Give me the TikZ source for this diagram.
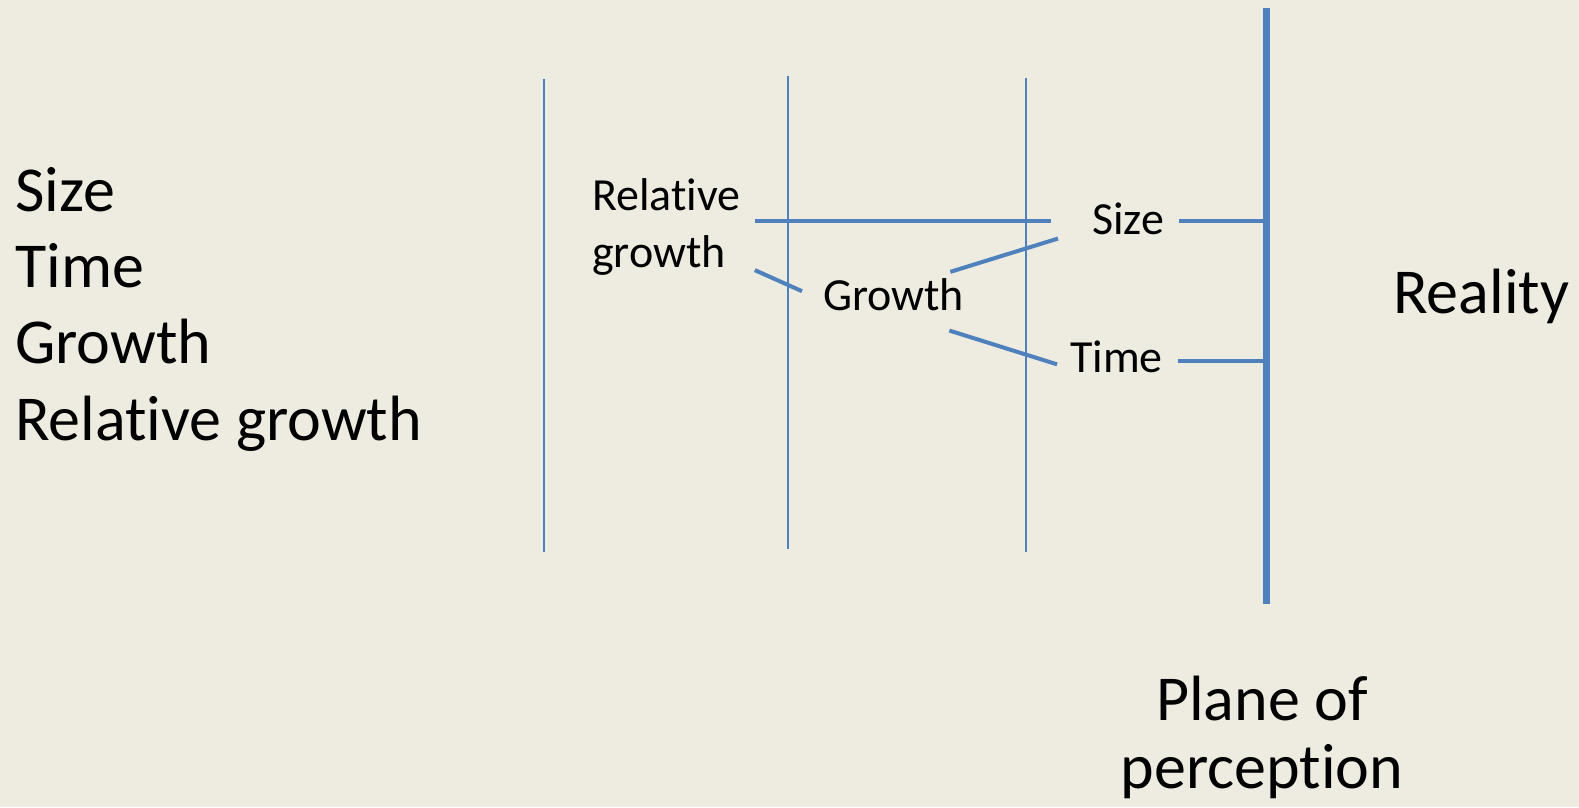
\documentclass[tikz,border=0pt]{standalone}
\usepackage{fontspec}
\setmainfont{Carlito}[Ligatures=NoCommon]
\usepackage{tikz}
\definecolor{paper}{RGB}{238,235,225}
\definecolor{lineblue}{RGB}{79,129,189}

\begin{document}
\begin{tikzpicture}[x=1pt,y=-1pt,
    bigtext/.style={inner sep=0pt,font=\fontsize{64}{68}\selectfont},
    smalltext/.style={inner sep=0pt,font=\fontsize{46}{57}\selectfont},
    thinline/.style={lineblue,line width=2pt},
    link/.style={lineblue,line width=4pt},
    planeline/.style={lineblue,line width=7pt}]
    \fill[paper] (0,0) rectangle (1579,807);
    % list on the left
    \node[bigtext,anchor=base west] (lsize) at (15,211) {Size};
    \node[bigtext,anchor=base west] (ltime) at (15,287) {Time};
    \node[bigtext,anchor=base west] (lgrow) at (15,363) {Growth};
    \node[bigtext,anchor=base west] (lrelg) at (15,440) {Relative growth};
    % levels
    \draw[thinline] (544,79) -- (544,552);
    \draw[thinline] (788,76) -- (788,549);
    \draw[thinline] (1026,78) -- (1026,552);
    \coordinate (ptop) at (1266,8);
    \coordinate (pbot) at (1266,604);
    \draw[planeline] (ptop) -- (pbot);
    % labels
    \node[smalltext,anchor=base west,align=left] (relg) at (592,267) {Relative\\growth};
    \node[smalltext,anchor=base west] (grow) at (823,310) {Growth};
    \node[smalltext,anchor=base west] (sizer) at (1092,234) {Size};
    \node[smalltext,anchor=base west] (timer) at (1070,372) {Time};
    \node[bigtext,anchor=base west] (real) at (1393,313) {Reality};
    \node[bigtext,anchor=base,align=center] (plane) at (1262,788) {Plane of\\perception};
    % connections
    \draw[link] ([xshift=14pt,yshift=-3pt]relg.east |- sizer.west) -- ([xshift=-41pt,yshift=-3pt]sizer.west);
    \draw[link] ([xshift=14pt,yshift=5pt]relg.south east) -- ([xshift=-21pt,yshift=3pt]grow.west);
    \draw[link] ([xshift=-14pt,yshift=6pt]grow.north east) -- ([xshift=-34pt,yshift=-4pt]sizer.south west);
    \draw[link] ([xshift=-15pt,yshift=-20pt]grow.south east) -- ([xshift=-13pt,yshift=-8pt]timer.west);
    \draw[link] ([xshift=15pt,yshift=-3pt]sizer.east) -- ([yshift=-3pt]sizer.east -| ptop);
    \draw[link] ([xshift=15pt,yshift=-5pt]timer.east) -- ([yshift=-5pt]timer.east -| ptop);
\end{tikzpicture}
\end{document}
